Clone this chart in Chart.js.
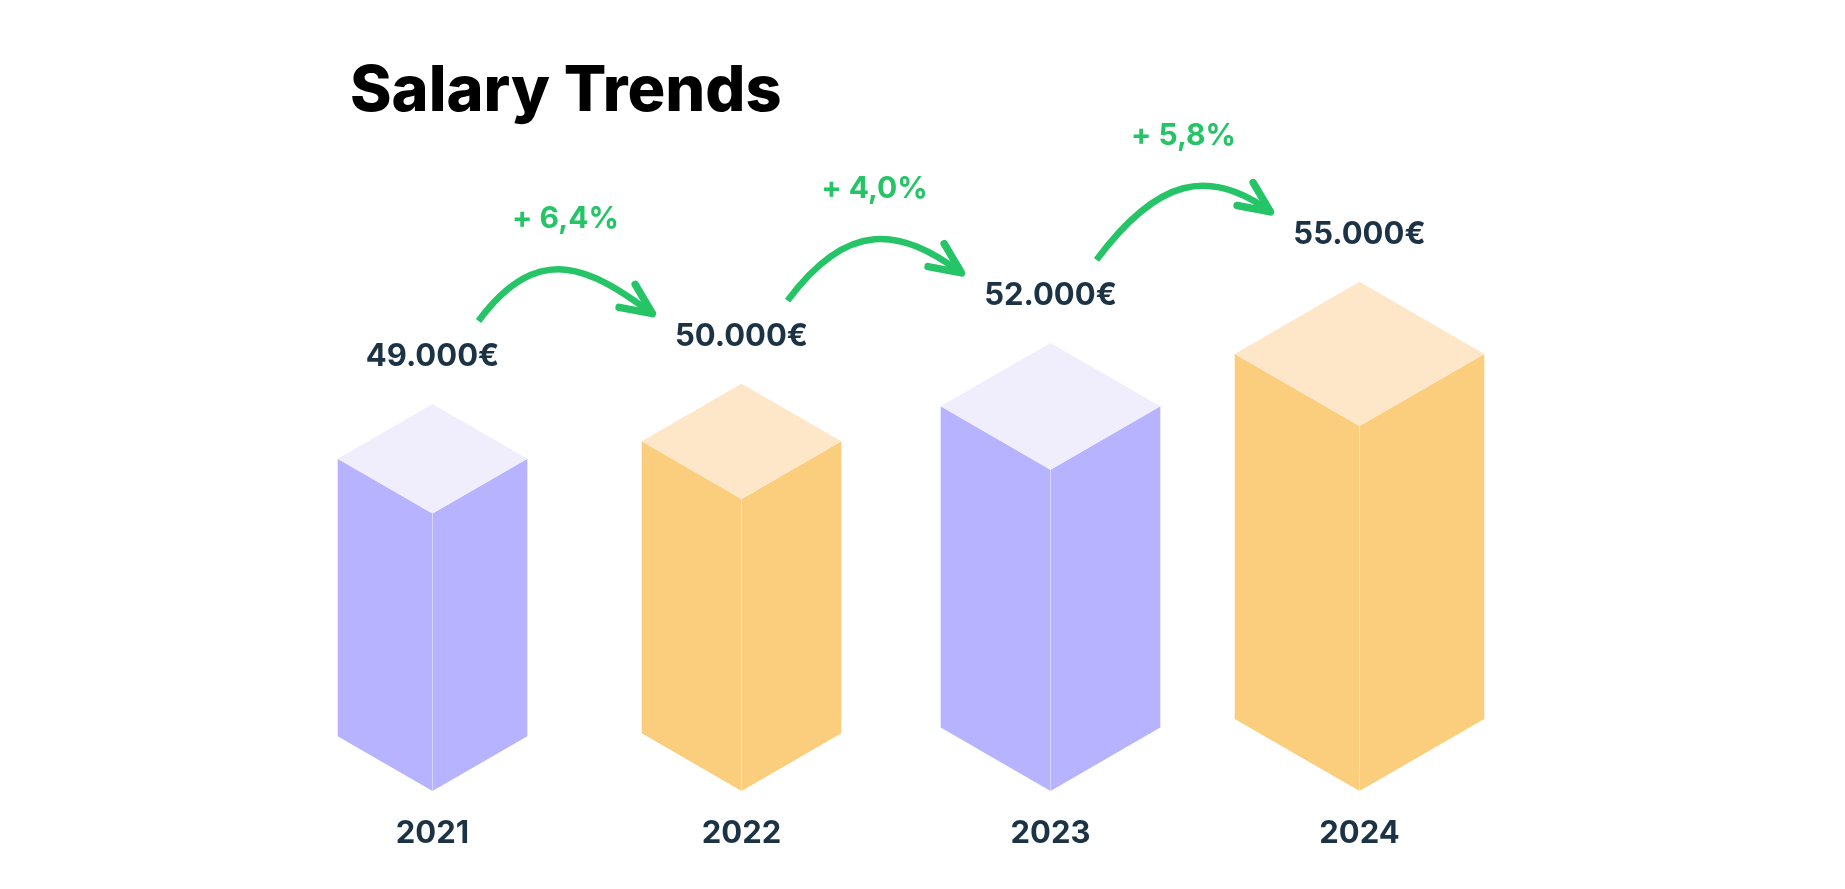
<!DOCTYPE html>
<html>
<head>
<meta charset="utf-8">
<title>Salary Trends</title>
<script src="https://cdn.jsdelivr.net/npm/chart.js@4.4.1/dist/chart.umd.min.js"></script>
<style>
  html, body { margin: 0; padding: 0; background: #fff; }
  #wrap { width: 1845px; height: 889px; position: relative; }
</style>
</head>
<body>
<div id="wrap"><canvas id="salaryChart"></canvas></div>
<script>
var years = ['2021', '2022', '2023', '2024'];
var salaries = [49000, 50000, 52000, 55000];
var growth = [6.4, 4.0, 5.8]; // % shown on the arrows between years

var sideColors = ['#b7b3ff', '#fbce7e', '#b7b3ff', '#fbce7e'];
var topColors = ['#f0eefd', '#fee7c9', '#f0eefd', '#fee7c9'];
var textColor = '#1b3344';
var green = '#24c467';

function euro(v) {
    return String(v).replace(/\B(?=(\d{3})+(?!\d))/g, '.') + '€';
}

function pct(g) {
    return '+ ' + g.toFixed(1).replace('.', ',') + '%';
}

// draw each bar as an isometric box (bottom tip on the axis, top tip at the value)
var isoBoxes = {
    id: 'isoBoxes',
    beforeDatasetDraw: function (chart, args) {
        var ctx = chart.ctx;
        var yScale = chart.scales.y;
        var bot = yScale.getPixelForValue(yScale.min);
        args.meta.data.forEach(function (bar, i) {
            var x = bar.x, top = bar.y;
            var hw = (bot - top) / 4.08;
            var dh = hw * Math.tan(Math.PI / 6);
            ctx.save();
            ctx.fillStyle = sideColors[i];
            ctx.beginPath();
            ctx.moveTo(x - hw, top + dh);
            ctx.lineTo(x, top + 2 * dh);
            ctx.lineTo(x + hw, top + dh);
            ctx.lineTo(x + hw, bot - dh);
            ctx.lineTo(x, bot);
            ctx.lineTo(x - hw, bot - dh);
            ctx.closePath();
            ctx.fill();

            ctx.fillStyle = topColors[i];
            ctx.beginPath();
            ctx.moveTo(x, top);
            ctx.lineTo(x + hw, top + dh);
            ctx.lineTo(x, top + 2 * dh);
            ctx.lineTo(x - hw, top + dh);
            ctx.closePath();
            ctx.fill();

            // faint front edge
            ctx.strokeStyle = 'rgba(255,255,255,0.45)';
            ctx.lineWidth = 1;
            ctx.beginPath();
            ctx.moveTo(x, top + 2 * dh);
            ctx.lineTo(x, bot);
            ctx.stroke();
            ctx.restore();
        });
        return false;
    }
};

function bez(p0, p1, p2, p3, t) {
    var u = 1 - t;
    return u * u * u * p0 + 3 * u * u * t * p1 + 3 * u * t * t * p2 + t * t * t * p3;
}

// value labels, curved arrows and growth percentages
var annotations = {
    id: 'annotations',
    afterDatasetsDraw: function (chart) {
        var ctx = chart.ctx;
        var bars = chart.getDatasetMeta(0).data;
        var pts = bars.map(function (b) { return { x: b.x, y: b.y - 38 }; });

        ctx.save();
        ctx.font = '700 31px Inter';
        ctx.fillStyle = textColor;
        ctx.textAlign = 'center';
        ctx.textBaseline = 'alphabetic';
        pts.forEach(function (p, i) {
            ctx.fillText(euro(salaries[i]), p.x, p.y);
        });

        growth.forEach(function (g, i) {
            var s = { x: pts[i].x + 46, y: pts[i].y - 45 };
            var e = { x: pts[i + 1].x - 89, y: pts[i + 1].y - 32 };
            var dx = e.x - s.x;
            var c1 = { x: s.x + 0.35 * dx, y: s.y - 82 };
            var c2 = { x: e.x - 0.35 * dx, y: e.y - 45 };

            ctx.strokeStyle = green;
            ctx.lineWidth = 6.5;
            ctx.lineCap = 'butt';
            ctx.beginPath();
            ctx.moveTo(s.x, s.y);
            ctx.bezierCurveTo(c1.x, c1.y, c2.x, c2.y, e.x, e.y);
            ctx.stroke();

            // arrow head
            var back = Math.atan2(c2.y - e.y, c2.x - e.x);
            var len = 34;
            ctx.lineWidth = 7.5;
            ctx.lineCap = 'round';
            ctx.lineJoin = 'round';
            ctx.beginPath();
            ctx.moveTo(e.x + len * Math.cos(back - 0.45), e.y + len * Math.sin(back - 0.45));
            ctx.lineTo(e.x, e.y);
            ctx.lineTo(e.x + len * Math.cos(back + 0.4), e.y + len * Math.sin(back + 0.4));
            ctx.stroke();

            var peak = Infinity;
            for (var t = 0; t <= 1; t += 0.02) {
                peak = Math.min(peak, bez(s.y, c1.y, c2.y, e.y, t));
            }
            ctx.font = '700 30px Inter';
            ctx.fillStyle = green;
            ctx.fillText(pct(g), (s.x + e.x) / 2, peak - 41);
        });
        ctx.restore();
    }
};

var heading = {
    id: 'heading',
    afterDraw: function (chart) {
        var ctx = chart.ctx;
        ctx.save();
        ctx.font = '800 63px Inter';
        ctx.fillStyle = '#000';
        ctx.textAlign = 'left';
        ctx.textBaseline = 'alphabetic';
        ctx.fillText('Salary Trends', chart.chartArea.left + 72, 111);
        ctx.restore();
    }
};

var ctx = document.getElementById('salaryChart').getContext('2d');
var chart = new Chart(ctx, {
    type: 'bar',
    data: {
        labels: years,
        datasets: [{
            label: 'Salary',
            data: salaries,
            backgroundColor: sideColors
        }]
    },
    options: {
        responsive: true,
        maintainAspectRatio: false,
        animation: false,
        layout: {
            padding: { top: 180, left: 278, right: 331, bottom: 0 }
        },
        plugins: {
            legend: { display: false },
            tooltip: { enabled: false }
        },
        scales: {
            x: {
                grid: { display: false, drawTicks: false },
                border: { display: false },
                ticks: {
                    color: textColor,
                    padding: 24,
                    font: { family: 'Inter', weight: '700', size: 31 }
                },
                afterFit: function (scale) { scale.height = 98; }
            },
            y: {
                display: false,
                min: 30000,
                max: 60000
            }
        }
    },
    plugins: [isoBoxes, annotations, heading]
});
</script>
</body>
</html>
